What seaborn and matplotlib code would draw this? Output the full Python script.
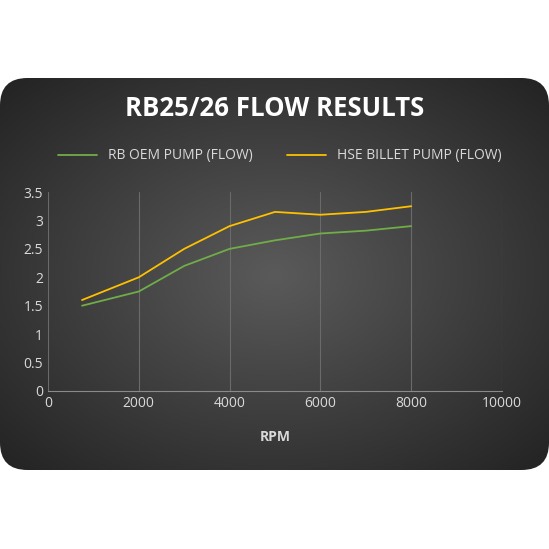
import numpy as np
import pandas as pd
import matplotlib
matplotlib.use("Agg")
import matplotlib.pyplot as plt
import seaborn as sns
from matplotlib.patches import FancyBboxPatch
from matplotlib.lines import Line2D

rpm = [750, 2000, 3000, 4000, 5000, 6000, 7000, 8000]
oem_flow = [1.5, 1.75, 2.2, 2.5, 2.65, 2.77, 2.82, 2.9]
hse_flow = [1.6, 2.0, 2.5, 2.9, 3.15, 3.1, 3.15, 3.25]
series_names = ["RB OEM PUMP (FLOW)", "HSE BILLET PUMP (FLOW)"]

df = pd.concat([
    pd.DataFrame({"RPM": rpm, "Flow": oem_flow, "Series": series_names[0]}),
    pd.DataFrame({"RPM": rpm, "Flow": hse_flow, "Series": series_names[1]}),
])

sns.set_style("white")
plt.rcParams["font.family"] = ["Open Sans", "DejaVu Sans"]

fig = plt.figure(figsize=(5.49, 5.49), dpi=100)
fig.patch.set_facecolor("white")

# rounded dark panel with radial gradient
bg = fig.add_axes([0, 0, 1, 1])
bg.set_xlim(0, 1); bg.set_ylim(0, 1); bg.axis("off")
yy, xx = np.mgrid[0:1:300j, 0:1:300j]
r = np.sqrt(((xx - 0.5) / 0.7) ** 2 + ((yy - 0.5) / 0.5) ** 2)
img = bg.imshow(r, cmap=matplotlib.colors.LinearSegmentedColormap.from_list("g", ["#5a5a5a", "#1e1e1e"]),
                extent=[0, 1, 0, 1], origin="lower", aspect="auto", vmin=0, vmax=1.1)
box = FancyBboxPatch((0.0, 1 - 470 / 549), 1.0, (470 - 78) / 549,
                     boxstyle="round,pad=0,rounding_size=0.05", transform=bg.transAxes,
                     facecolor="none", edgecolor="none")
bg.add_patch(box)
img.set_clip_path(box)

fig.text(0.5, 1 - 108 / 549, "R B 2 5 / 2 6   F L O W   R E S U L T S".replace(" ", "\u200a")
         if False else "RB25/26 FLOW RESULTS", color="white", fontsize=18.5,
         fontweight="bold", ha="center", va="center")

ax = fig.add_axes([48 / 549, 1 - 391 / 549, 454 / 549, 199 / 549])
ax.set_facecolor("none")
sns.lineplot(data=df, x="RPM", y="Flow", hue="Series", palette=["#70ad47", "#ffc000"],
             linewidth=1.3, ax=ax, legend=False)
ax.set_xlim(0, 10000)
ax.set_ylim(0, 3.5)
ax.set_xticks(range(0, 10001, 2000))
ax.set_yticks(np.arange(0, 3.51, 0.5))
ax.set_yticklabels(["0", "0.5", "1", "1.5", "2", "2.5", "3", "3.5"])
ax.grid(axis="x", color="#6a6a6a", linewidth=0.8)
for s in ["top", "right", "left"]:
    ax.spines[s].set_visible(False)
ax.spines["bottom"].set_color("#8a8a8a")
ax.tick_params(colors="#d9d9d9", labelsize=10, length=0)
ax.set_xlabel("RPM", color="#d9d9d9", fontweight="bold", fontsize=10, labelpad=14)
ax.set_ylabel("")

handles = [Line2D([], [], color="#70ad47", lw=1.3), Line2D([], [], color="#ffc000", lw=1.3)]
fig.legend(handles, series_names, loc="center", bbox_to_anchor=(0.51, 1 - 156 / 549), ncol=2,
           frameon=False, labelcolor="#d9d9d9", fontsize=10, handlelength=2.8, columnspacing=2.5)

fig.savefig("out.png", dpi=100)
